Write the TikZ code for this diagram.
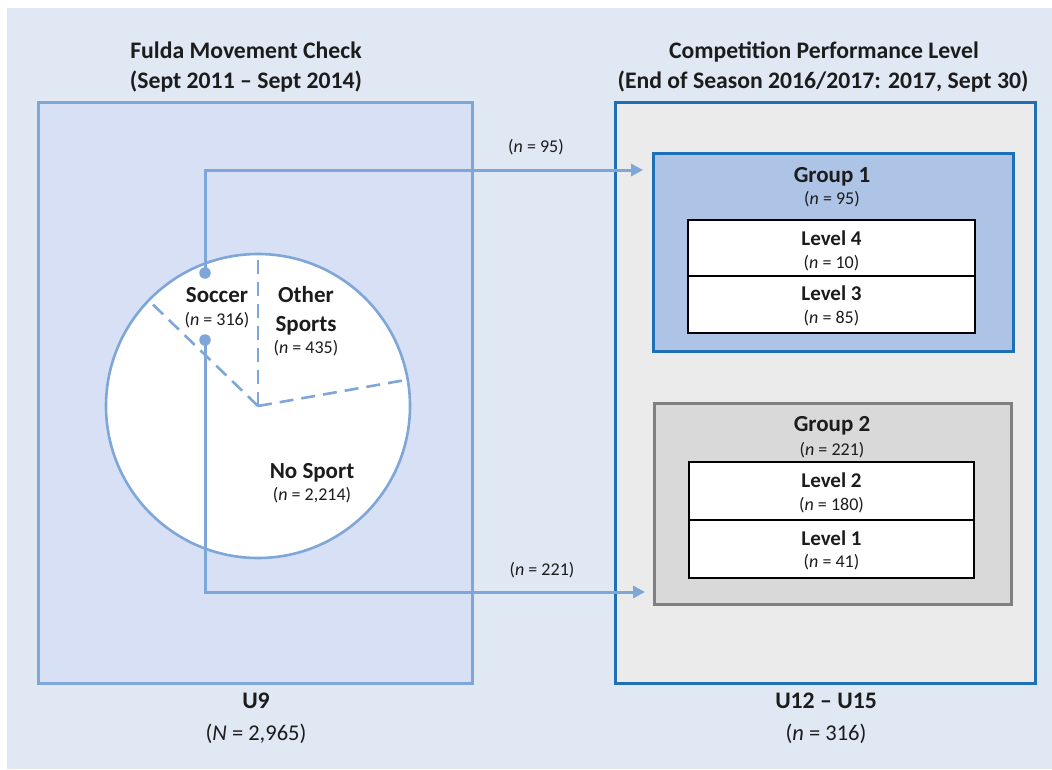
\documentclass[tikz,border=0pt]{standalone}
\usepackage{fontspec}
\setmainfont{Carlito}
\usetikzlibrary{arrows.meta}

\definecolor{bg}{HTML}{DFE8F3}
\definecolor{leftfill}{HTML}{D7E0F4}
\definecolor{lightline}{HTML}{7EA6D8}
\definecolor{rightfill}{HTML}{EBEBEB}
\definecolor{darkline}{HTML}{1F6FB5}
\definecolor{gonefill}{HTML}{AEC4E6}
\definecolor{gtwofill}{HTML}{D9D9D9}
\definecolor{gtwoline}{HTML}{808080}
\definecolor{txt}{HTML}{1C1C1C}

\newcommand\titlefont{\fontsize{23.7}{28}\selectfont\bfseries}
\newcommand\headfont{\fontsize{23}{27}\selectfont\bfseries}
\newcommand\levelfont{\fontsize{21}{25}\selectfont\bfseries}
\newcommand\countfont{\fontsize{18}{22}\selectfont}
\newcommand\totalfont{\fontsize{22.5}{26}\selectfont}

\begin{document}
\begin{tikzpicture}[x=1pt,y=-1pt,
  every node/.style={inner sep=0pt, outer sep=0pt, text=txt},
  panel/.style={draw, line width=3pt, rectangle},
  groupbox/.style={draw, line width=3pt, rectangle},
  levelbox/.style={draw=black, fill=white, line width=1.2pt, rectangle},
  lbl/.style={anchor=base, align=center},
  dot/.style={circle, fill=lightline, minimum size=11.5pt},
  link/.style={draw=lightline, line width=3pt, -{Triangle[length=12pt,width=12pt]}},
  spoke/.style={draw=lightline, line width=2.6pt, dash pattern=on 14pt off 8pt}
]
\useasboundingbox (0,0) rectangle (1052,769);
\fill[bg] (7,8) rectangle (1052,769);

% ---- left panel: U9 cohort ----
\node[panel, draw=lightline, fill=leftfill, minimum width=434pt, minimum height=581pt] (u9) at (255,392.5) {};
\node[lbl, font=\titlefont] (t1a) at (246,58) {Fulda Movement Check};
\node[lbl, font=\titlefont] (t1b) at (246,88) {(Sept 2011 – Sept 2014)};
\node[lbl, font=\titlefont] (b1a) at (256,708) {U9};
\node[lbl, font=\totalfont] (b1b) at (256,740) {(\textit{N} = 2,965)};

% pie of sport participation
\node[circle, draw=lightline, fill=white, line width=2.6pt, minimum size=304pt] (pie) at (258,406) {};
\draw[spoke] (pie.center) -- (pie.90);
\draw[spoke] (pie.center) -- (pie.10.6);
\draw[spoke] (pie.center) -- (pie.136);

\node[lbl, font=\headfont] (soc) at (217,302) {Soccer};
\node[lbl, font=\countfont] (socn) at (217,325) {(\textit{n} = 316)};
\node[lbl, font=\headfont] (oth) at (306,302) {Other};
\node[lbl, font=\headfont] (oth2) at (306,331) {Sports};
\node[lbl, font=\countfont] (othn) at (306,353) {(\textit{n} = 435)};
\node[lbl, font=\headfont] (nos) at (312,478) {No Sport};
\node[lbl, font=\countfont] (nosn) at (312,500) {(\textit{n} = 2,214)};

% ---- right panel: U12-U15 ----
\node[panel, draw=darkline, fill=rightfill, minimum width=420pt, minimum height=581pt] (u12) at (825,392.5) {};
\node[lbl, font=\titlefont] (t2a) at (824,58) {Competition Performance Level};
\node[lbl, font=\titlefont] (t2b) at (823,88) {(End of Season 2016/2017: 2017, Sept 30)};
\node[lbl, font=\titlefont] (b2a) at (826,708) {U12 – U15};
\node[lbl, font=\totalfont] (b2b) at (826,740) {(\textit{n} = 316)};

% group 1
\node[groupbox, draw=darkline, fill=gonefill, minimum width=360pt, minimum height=198pt] (g1) at (833,252) {};
\node[lbl, font=\headfont] (g1t) at (832,182) {Group 1};
\node[lbl, font=\countfont] (g1n) at (832,204) {(\textit{n} = 95)};
\node[levelbox, minimum width=287pt, minimum height=56pt] (l4) at (831.5,248) {};
\node[levelbox, minimum width=287pt, minimum height=57pt] (l3) at (831.5,304.5) {};
\node[lbl, font=\levelfont] at (831.5,245.5) {Level 4};
\node[lbl, font=\countfont] at (831.5,268) {(\textit{n} = 10)};
\node[lbl, font=\levelfont] at (831.5,300) {Level 3};
\node[lbl, font=\countfont] at (831.5,323) {(\textit{n} = 85)};

% group 2
\node[groupbox, draw=gtwoline, fill=gtwofill, minimum width=357pt, minimum height=201pt] (g2) at (832.5,503.5) {};
\node[lbl, font=\headfont] (g2t) at (832,431) {Group 2};
\node[lbl, font=\countfont] (g2n) at (832,455) {(\textit{n} = 221)};
\node[levelbox, minimum width=285pt, minimum height=58pt] (l2) at (831.5,491) {};
\node[levelbox, minimum width=285pt, minimum height=58pt] (l1) at (831.5,549) {};
\node[lbl, font=\levelfont] at (831.5,487.5) {Level 2};
\node[lbl, font=\countfont] at (831.5,510) {(\textit{n} = 180)};
\node[lbl, font=\levelfont] at (831.5,545) {Level 1};
\node[lbl, font=\countfont] at (831.5,567.5) {(\textit{n} = 41)};

% ---- soccer players traced to their groups ----
\node[dot] (s1) at (205,273) {};
\node[dot] (s2) at (205,340) {};
\coordinate (e1) at (643,170);
\coordinate (e2) at (645,592);
\draw[link] (s1.center) |- (e1);
\draw[link] (s2.center) |- (e2);
\node[lbl, font=\countfont] (a1) at (536,152) {(\textit{n} = 95)};
\node[lbl, font=\countfont] (a2) at (542,575) {(\textit{n} = 221)};
\end{tikzpicture}
\end{document}
